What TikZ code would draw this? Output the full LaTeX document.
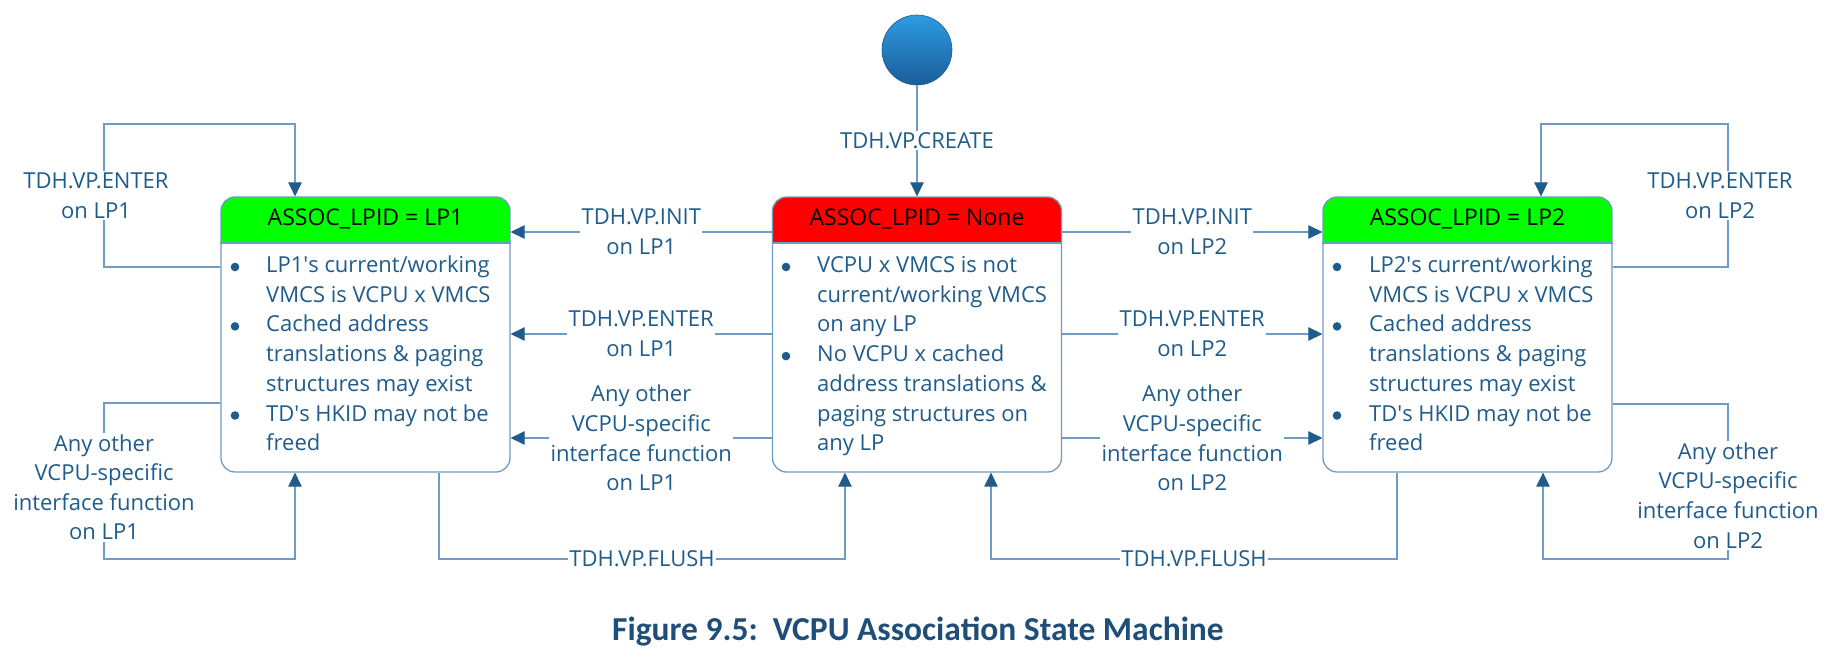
\documentclass[tikz,border=0pt]{standalone}
\usepackage{fontspec}
\setmainfont{Open Sans}
\newfontfamily\capfont{Carlito}
\usetikzlibrary{arrows.meta}
\definecolor{txtblue}{HTML}{1F5C8C}
\definecolor{lineblue}{HTML}{6F9CC6}
\definecolor{tipblue}{HTML}{1F5C8C}
\definecolor{capblue}{HTML}{1F4E79}
\definecolor{hdrgreen}{HTML}{00FF00}
\definecolor{hdrred}{HTML}{FF0000}
\definecolor{ctop}{HTML}{2D9BE2}
\definecolor{cbot}{HTML}{1B5D99}
\newcommand\bodylines[3]{%
  \foreach \bl [count=\i] in {#3}{\node[bodyt] (#1\i) at (#2,{272.5+29.7*(\i-1)}) {\bl};}}
\newcommand\bullets[2]{%
  \foreach \k in {#2}{\fill[txtblue] (#1,{267+29.7*(\k-1)}) circle (4.3pt);}}
\begin{document}
\begin{tikzpicture}[x=1pt,y=-1pt,
  conn/.style={draw=lineblue, line width=1.1pt, -{Triangle[length=14pt,width=13.5pt,color=tipblue]}},
  lab/.style={fill=white, inner sep=1.5pt, align=center, text=txtblue, font=\fontsize{22}{29.6}\selectfont},
  state/.style={draw=lineblue, line width=1.3pt, fill=white, rounded corners=14pt,
     minimum width=289pt, minimum height=275pt, inner sep=0pt,
     path picture={\fill[#1, sharp corners] (path picture bounding box.north west) rectangle ([yshift=-46pt]path picture bounding box.north east);}},
  hdr/.style={font=\fontsize{23}{28}\selectfont, text=black, inner sep=0pt},
  bodyt/.style={font=\fontsize{22}{29.6}\selectfont, text=txtblue, inner sep=0pt, anchor=base west},
  sep/.style={draw=lineblue, line width=1.3pt},
]
\fill[white] (0,0) rectangle (1836,663);
\useasboundingbox (0,0) rectangle (1836,663);

% states
\node[state=hdrgreen] (lp1) at (365.5,334.5) {};
\node[state=hdrred] (mid) at (917,334.5) {};
\node[state=hdrgreen] (lp2) at (1467.5,334.5) {};
\foreach \n in {lp1,mid,lp2}{\draw[sep] (\n.west |- 0,243) -- (\n.east |- 0,243);}

\node[hdr] (lp1h) at ([yshift=-23pt]lp1.north) {ASSOC\_LPID = LP1};
\node[hdr] (midh) at ([yshift=-23pt]mid.north) {ASSOC\_LPID = None};
\node[hdr] (lp2h) at ([yshift=-23pt]lp2.north) {ASSOC\_LPID = LP2};

\bodylines{la}{266}{LP1\textquotesingle s current/working, VMCS is VCPU x VMCS, Cached address, translations \& paging, structures may exist, TD\textquotesingle s HKID may not be, freed}
\bullets{235}{1,3,6}
\bodylines{ma}{817}{VCPU x VMCS is not, current/working VMCS, on any LP, No VCPU x cached, address translations \&, paging structures on, any LP}
\bullets{786}{1,4}
\bodylines{ra}{1369}{LP2\textquotesingle s current/working, VMCS is VCPU x VMCS, Cached address, translations \& paging, structures may exist, TD\textquotesingle s HKID may not be, freed}
\bullets{1337}{1,3,6}

% initial
\node[circle, minimum size=70pt, inner sep=0pt, top color=ctop, bottom color=cbot, draw=cbot, line width=0.6pt] (start) at (917,50) {};
\draw[conn] (start.south) -- node[lab] {TDH.VP.CREATE} (mid.north);

% middle to left
\draw[conn] (mid.west |- 0,232) -- node[lab] {TDH.VP.INIT\\on LP1} (lp1.east |- 0,232);
\draw[conn] (mid.west |- 0,334) -- node[lab] {TDH.VP.ENTER\\on LP1} (lp1.east |- 0,334);
\draw[conn] (mid.west |- 0,438) -- node[lab] {Any other\\VCPU-specific\\interface function\\on LP1} (lp1.east |- 0,438);
% middle to right
\draw[conn] (mid.east |- 0,232) -- node[lab] {TDH.VP.INIT\\on LP2} (lp2.west |- 0,232);
\draw[conn] (mid.east |- 0,334) -- node[lab] {TDH.VP.ENTER\\on LP2} (lp2.west |- 0,334);
\draw[conn] (mid.east |- 0,438) -- node[lab] {Any other\\VCPU-specific\\interface function\\on LP2} (lp2.west |- 0,438);

% self loops LP1
\draw[conn] (lp1.west |- 0,267) -- (104,267) -- node[lab, xshift=-8pt] {TDH.VP.ENTER\\on LP1} (104,124) -- (295,124) -- (lp1.north -| 295,0);
\draw[conn] (lp1.west |- 0,403) -- (104,403) -- node[lab, pos=0.54] {Any other\\VCPU-specific\\interface function\\on LP1} (104,559) -- (295,559) -- (lp1.south -| 295,0);
% self loops LP2
\draw[conn] (lp2.east |- 0,267) -- (1728,267) -- node[lab, xshift=-8pt] {TDH.VP.ENTER\\on LP2} (1728,124) -- (1541,124) -- (lp2.north -| 1541,0);
\draw[conn] (lp2.east |- 0,404) -- (1728,404) -- node[lab, pos=0.59] {Any other\\VCPU-specific\\interface function\\on LP2} (1728,559) -- (1543,559) -- (lp2.south -| 1543,0);

% flush
\draw[conn] (lp1.south -| 439,0) -- (439,559) -- node[lab] {TDH.VP.FLUSH} (845,559) -- (mid.south -| 845,0);
\draw[conn] (lp2.south -| 1397,0) -- (1397,559) -- node[lab] {TDH.VP.FLUSH} (991,559) -- (mid.south -| 991,0);

% caption
\node[font=\capfont\bfseries\fontsize{33.5}{40}\selectfont, text=capblue, inner sep=0pt] (cap) at (918,632) {Figure 9.5:\ \ VCPU Association State Machine};
\end{tikzpicture}
\end{document}
